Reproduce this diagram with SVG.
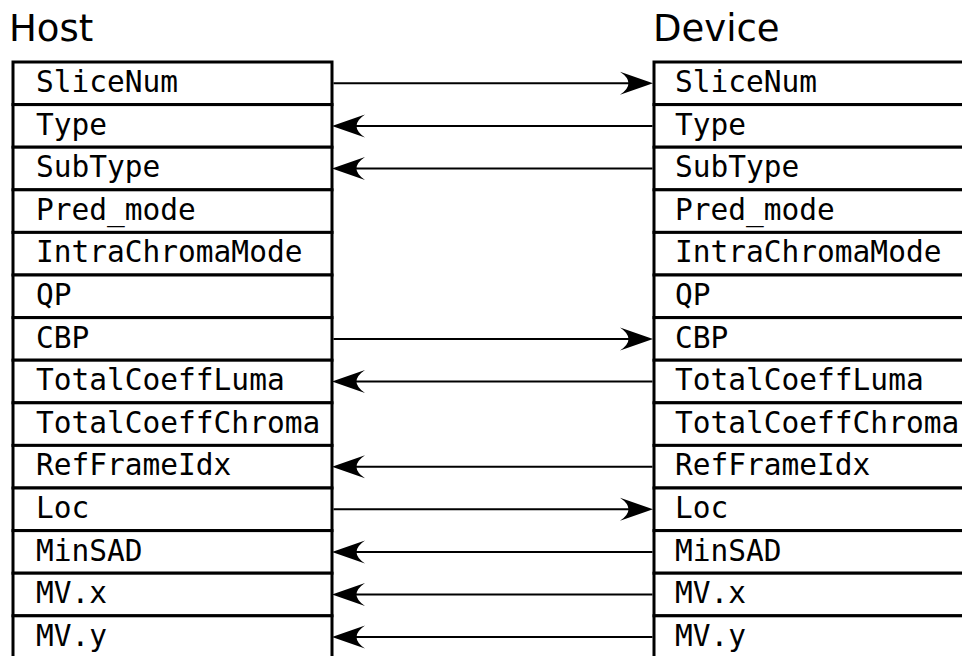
<svg xmlns="http://www.w3.org/2000/svg" width="962" height="656" viewBox="0 0 962 656">
  <style>
    .title { font-family: "DejaVu Sans", sans-serif; font-size: 37px; fill: #000; }
    .field rect { fill: #fff; stroke: #000; stroke-width: 3; }
    .field text { font-family: "DejaVu Sans Mono", monospace; font-size: 29.5px; fill: #000; }
    .link { stroke: #000; stroke-width: 2; fill: none; marker-end: url(#head); }
  </style>
  <defs>
    <marker id="head" markerUnits="userSpaceOnUse" viewBox="-25 -13 37 26" markerWidth="37" markerHeight="26" refX="0" refY="0" orient="auto">
      <path d="M10,0 L-23,-11.5 Q-6,0 -23,11.5 Z" fill="#000"/>
    </marker>
  </defs>
  <rect width="962" height="656" fill="#fff"/>

  <text class="title" x="9" y="41">Host</text>
  <text class="title" x="653" y="41">Device</text>

  <!-- Host record -->
  <g id="host">
    <g class="field" id="host-slicenum"><rect x="13" y="62" width="319" height="42.6"/><text x="36" y="92">SliceNum</text></g>
    <g class="field" id="host-type"><rect x="13" y="104.6" width="319" height="42.6"/><text x="36" y="134.6">Type</text></g>
    <g class="field" id="host-subtype"><rect x="13" y="147.2" width="319" height="42.6"/><text x="36" y="177.2">SubType</text></g>
    <g class="field" id="host-predmode"><rect x="13" y="189.8" width="319" height="42.6"/><text x="36" y="219.8">Pred_mode</text></g>
    <g class="field" id="host-intrachroma"><rect x="13" y="232.4" width="319" height="42.6"/><text x="36" y="262.4">IntraChromaMode</text></g>
    <g class="field" id="host-qp"><rect x="13" y="275" width="319" height="42.6"/><text x="36" y="305">QP</text></g>
    <g class="field" id="host-cbp"><rect x="13" y="317.6" width="319" height="42.6"/><text x="36" y="347.6">CBP</text></g>
    <g class="field" id="host-tcluma"><rect x="13" y="360.2" width="319" height="42.6"/><text x="36" y="390.2">TotalCoeffLuma</text></g>
    <g class="field" id="host-tcchroma"><rect x="13" y="402.8" width="319" height="42.6"/><text x="36" y="432.8">TotalCoeffChroma</text></g>
    <g class="field" id="host-refframe"><rect x="13" y="445.4" width="319" height="42.6"/><text x="36" y="475.4">RefFrameIdx</text></g>
    <g class="field" id="host-loc"><rect x="13" y="488" width="319" height="42.6"/><text x="36" y="518">Loc</text></g>
    <g class="field" id="host-minsad"><rect x="13" y="530.6" width="319" height="42.6"/><text x="36" y="560.6">MinSAD</text></g>
    <g class="field" id="host-mvx"><rect x="13" y="573.2" width="319" height="42.6"/><text x="36" y="603.2">MV.x</text></g>
    <g class="field" id="host-mvy"><rect x="13" y="615.8" width="319" height="42.6"/><text x="36" y="645.8">MV.y</text></g>
  </g>

  <!-- Device record -->
  <g id="device">
    <g class="field" id="dev-slicenum"><rect x="654" y="62" width="330" height="42.6"/><text x="675" y="92">SliceNum</text></g>
    <g class="field" id="dev-type"><rect x="654" y="104.6" width="330" height="42.6"/><text x="675" y="134.6">Type</text></g>
    <g class="field" id="dev-subtype"><rect x="654" y="147.2" width="330" height="42.6"/><text x="675" y="177.2">SubType</text></g>
    <g class="field" id="dev-predmode"><rect x="654" y="189.8" width="330" height="42.6"/><text x="675" y="219.8">Pred_mode</text></g>
    <g class="field" id="dev-intrachroma"><rect x="654" y="232.4" width="330" height="42.6"/><text x="675" y="262.4">IntraChromaMode</text></g>
    <g class="field" id="dev-qp"><rect x="654" y="275" width="330" height="42.6"/><text x="675" y="305">QP</text></g>
    <g class="field" id="dev-cbp"><rect x="654" y="317.6" width="330" height="42.6"/><text x="675" y="347.6">CBP</text></g>
    <g class="field" id="dev-tcluma"><rect x="654" y="360.2" width="330" height="42.6"/><text x="675" y="390.2">TotalCoeffLuma</text></g>
    <g class="field" id="dev-tcchroma"><rect x="654" y="402.8" width="330" height="42.6"/><text x="675" y="432.8">TotalCoeffChroma</text></g>
    <g class="field" id="dev-refframe"><rect x="654" y="445.4" width="330" height="42.6"/><text x="675" y="475.4">RefFrameIdx</text></g>
    <g class="field" id="dev-loc"><rect x="654" y="488" width="330" height="42.6"/><text x="675" y="518">Loc</text></g>
    <g class="field" id="dev-minsad"><rect x="654" y="530.6" width="330" height="42.6"/><text x="675" y="560.6">MinSAD</text></g>
    <g class="field" id="dev-mvx"><rect x="654" y="573.2" width="330" height="42.6"/><text x="675" y="603.2">MV.x</text></g>
    <g class="field" id="dev-mvy"><rect x="654" y="615.8" width="330" height="42.6"/><text x="675" y="645.8">MV.y</text></g>
  </g>

  <!-- Transfers between host and device -->
  <g id="connectors">
    <line class="link" x1="333.5" y1="83.3" x2="643" y2="83.3"/>
    <line class="link" x1="652.5" y1="125.9" x2="342" y2="125.9"/>
    <line class="link" x1="652.5" y1="168.5" x2="342" y2="168.5"/>
    <line class="link" x1="333.5" y1="338.9" x2="643" y2="338.9"/>
    <line class="link" x1="652.5" y1="381.5" x2="342" y2="381.5"/>
    <line class="link" x1="652.5" y1="466.7" x2="342" y2="466.7"/>
    <line class="link" x1="333.5" y1="509.3" x2="643" y2="509.3"/>
    <line class="link" x1="652.5" y1="551.9" x2="342" y2="551.9"/>
    <line class="link" x1="652.5" y1="594.5" x2="342" y2="594.5"/>
    <line class="link" x1="652.5" y1="637.1" x2="342" y2="637.1"/>
  </g>
</svg>
